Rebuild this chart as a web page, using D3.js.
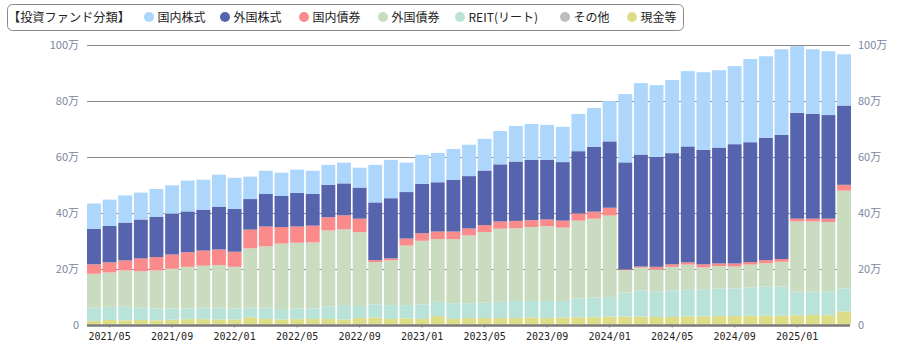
<!DOCTYPE html>
<html>
<head>
<meta charset="utf-8">
<script src="https://cdn.jsdelivr.net/npm/d3@7/dist/d3.min.js"></script>
<style>
  html, body { margin: 0; padding: 0; background: #fff; }
  svg { display: block; }
</style>
</head>
<body>
<svg id="chart" width="903" height="347"></svg>
<script>
// Monthly asset balance by fund category (unit: 万円)
const months = [
  "2021/04","2021/05","2021/06","2021/07","2021/08","2021/09","2021/10","2021/11","2021/12",
  "2022/01","2022/02","2022/03","2022/04","2022/05","2022/06","2022/07","2022/08","2022/09","2022/10","2022/11","2022/12",
  "2023/01","2023/02","2023/03","2023/04","2023/05","2023/06","2023/07","2023/08","2023/09","2023/10","2023/11","2023/12",
  "2024/01","2024/02","2024/03","2024/04","2024/05","2024/06","2024/07","2024/08","2024/09","2024/10","2024/11","2024/12",
  "2025/01","2025/02","2025/03","2025/04"
];

const seriesNames = ["国内株式","外国株式","国内債券","外国債券","REIT(リート)","その他","現金等"];
const seriesColors = ["#acd6fc","#5663ad","#fb8a8a","#c9dcc0","#b9e3d8","#bdbdbd","#dddd88"];

const domesticStock = [9.0,9.4,9.7,9.6,10.0,10.1,11.0,10.7,11.4,11.1,8.0,8.3,8.3,8.3,8.3,7.1,7.4,7.1,13.4,13.7,10.5,
  10.4,10.5,11.0,11.2,11.3,11.9,12.7,12.8,12.5,12.6,13.3,13.8,14.4,24.4,25.5,25.6,26.1,26.9,27.7,27.6,27.9,29.7,29.1,30.6,23.8,23.1,22.8,18.3];
const foreignStock = [12.7,13.0,13.5,13.9,14.3,14.6,14.6,14.6,15.3,15.3,10.9,11.6,11.1,12.0,11.3,11.6,11.4,11.1,20.6,21.5,16.6,
  17.6,17.6,18.5,18.7,19.5,20.4,21.2,21.5,21.3,20.9,22.2,23.2,23.7,38.2,40.0,39.3,39.7,41.4,40.9,41.4,42.6,42.8,43.7,44.3,37.8,37.4,37.0,28.3];
const domesticBond = [3.4,3.6,3.6,4.6,4.8,5.1,5.2,5.4,5.6,5.4,6.7,7.1,5.9,5.8,6.0,4.7,5.0,4.8,0.7,0.7,2.5,
  2.7,2.7,2.7,2.5,2.5,2.6,2.6,2.5,2.4,2.5,2.6,2.5,2.8,0.3,0.4,0.9,0.9,0.8,1.1,0.9,1.1,0.9,1.1,1.0,1.0,1.0,1.2,2.1];
const foreignBond = [12.1,12.3,13.0,13.0,13.6,14.2,14.9,15.0,15.2,14.9,21.2,21.9,23.4,23.5,23.6,27.1,27.1,26.4,15.1,16.0,21.3,
  22.7,22.4,22.9,24.2,25.2,26.1,26.0,26.4,26.7,26.2,27.8,28.2,29.1,8.0,8.1,8.0,8.4,8.8,7.8,8.0,7.8,8.2,8.4,8.8,25.1,25.1,24.7,34.9];
const reit = [4.7,4.7,4.8,4.4,4.2,4.0,3.8,4.1,4.2,3.9,3.4,4.0,3.7,3.8,3.7,4.5,5.1,4.3,4.7,4.9,4.7,
  5.2,5.1,5.6,5.3,5.5,5.8,6.1,5.9,6.1,5.9,6.7,7.0,7.0,8.6,9.4,9.0,9.5,9.7,9.7,9.9,9.9,10.1,10.4,10.5,8.4,8.3,8.6,8.2];
const other = months.map(() => 0);
const cash = [1.3,1.6,1.5,1.6,1.5,1.7,1.9,1.9,1.8,1.8,2.6,2.0,1.8,1.9,2.0,2.0,1.8,2.3,2.5,2.0,2.2,
  2.0,3.0,2.0,2.3,2.3,2.3,2.3,2.5,2.3,2.5,2.6,2.6,2.8,2.8,2.8,2.7,2.7,2.9,2.9,3.0,3.0,3.1,3.1,3.1,3.3,3.4,3.3,4.7];

const yTicks = [0, 20, 40, 60, 80, 100];
const xTickLabels = ["2021/05","2021/09","2022/01","2022/05","2022/09","2023/01","2023/05","2023/09",
  "2024/01","2024/05","2024/09","2025/01"];

// Series in stacking order, bottom first
const stackKeys = ["現金等","その他","REIT(リート)","外国債券","国内債券","外国株式","国内株式"];
const valuesByName = {
  "国内株式": domesticStock, "外国株式": foreignStock, "国内債券": domesticBond,
  "外国債券": foreignBond, "REIT(リート)": reit, "その他": other, "現金等": cash
};
const colorOf = d3.scaleOrdinal().domain(seriesNames).range(seriesColors);

const rows = months.map((m, i) => {
  const r = { month: m };
  stackKeys.forEach(k => { r[k] = valuesByName[k][i]; });
  return r;
});
const stacked = d3.stack().keys(stackKeys)(rows);

const svg = d3.select("#chart");
const plot = { left: 87, right: 851, top: 44.5, bottom: 324.5 };

const x = d3.scaleBand().domain(months).range([plot.left, plot.right])
  .paddingInner(0.11).paddingOuter(0);
const y = d3.scaleLinear().domain([0, 100]).range([plot.bottom, plot.top]);

// Horizontal grid lines
svg.append("g").selectAll("line").data(yTicks.filter(t => t > 0)).join("line")
  .attr("x1", plot.left).attr("x2", plot.right - 1)
  .attr("y1", d => Math.round(y(d)) + 0.5).attr("y2", d => Math.round(y(d)) + 0.5)
  .attr("stroke", "#8a8a8a").attr("stroke-width", 1);

// Stacked bars
svg.append("g").selectAll("g").data(stacked).join("g")
  .attr("fill", d => colorOf(d.key))
  .selectAll("rect").data(d => d).join("rect")
  .attr("x", d => x(d.data.month))
  .attr("width", x.bandwidth())
  .attr("y", d => y(d[1]))
  .attr("height", d => Math.max(0, y(d[0]) - y(d[1])));

// Y axis labels (both sides)
const yLabelFont = "'Noto Sans CJK JP', 'Noto Sans', sans-serif";
const leftAxis = d3.axisLeft(y).tickValues(yTicks).tickSize(0).tickPadding(8)
  .tickFormat(d => d === 0 ? "0" : d + "万");
const rightAxis = d3.axisRight(y).tickValues(yTicks).tickSize(0).tickPadding(8)
  .tickFormat(d => d === 0 ? "0" : d + "万");
[[leftAxis, plot.left], [rightAxis, plot.right - 1]].forEach(([ax, pos]) => {
  const g = svg.append("g").attr("transform", `translate(${pos},0)`).call(ax);
  g.select(".domain").remove();
  g.selectAll("text").attr("fill", "#7b86a0").style("font-family", yLabelFont)
    .style("font-size", "11px");
});

// X axis
const xAxis = d3.axisBottom(x).tickValues(xTickLabels).tickSize(3).tickPadding(5);
const gx = svg.append("g").attr("transform", `translate(0,${plot.bottom})`).call(xAxis);
gx.select(".domain").remove();
gx.selectAll(".tick line").attr("stroke", "#777");
gx.selectAll("text").attr("fill", "#222")
  .style("font-family", "'DejaVu Sans Mono', monospace").style("font-size", "10px");
svg.append("line")
  .attr("x1", plot.left).attr("x2", plot.right - 1)
  .attr("y1", plot.bottom + 1).attr("y2", plot.bottom + 1)
  .attr("stroke", "#7a7a7a").attr("stroke-width", 2.5);

// Legend
const legendFont = "'Noto Sans CJK JP', 'Noto Sans', sans-serif";
const legend = svg.append("g");
legend.append("rect")
  .attr("x", 7.5).attr("y", 4.5).attr("width", 676).attr("height", 26).attr("rx", 5)
  .attr("fill", "#fff").attr("stroke", "#8a8a8a");
legend.append("text").attr("x", 8).attr("y", 21.5)
  .style("font-family", legendFont).style("font-size", "12.2px").attr("fill", "#222")
  .text("【投資ファンド分類】");
const legendX = [149, 225, 304, 383, 460, 565, 632];
const items = legend.selectAll("g.item").data(seriesNames).join("g").attr("class", "item")
  .attr("transform", (d, i) => `translate(${legendX[i]},17)`);
items.append("circle").attr("r", 5).attr("fill", d => colorOf(d));
items.append("text").attr("x", 8.5).attr("y", 4.5)
  .style("font-family", legendFont).style("font-size", "12px").attr("fill", "#222")
  .text(d => d);
</script>
</body>
</html>
